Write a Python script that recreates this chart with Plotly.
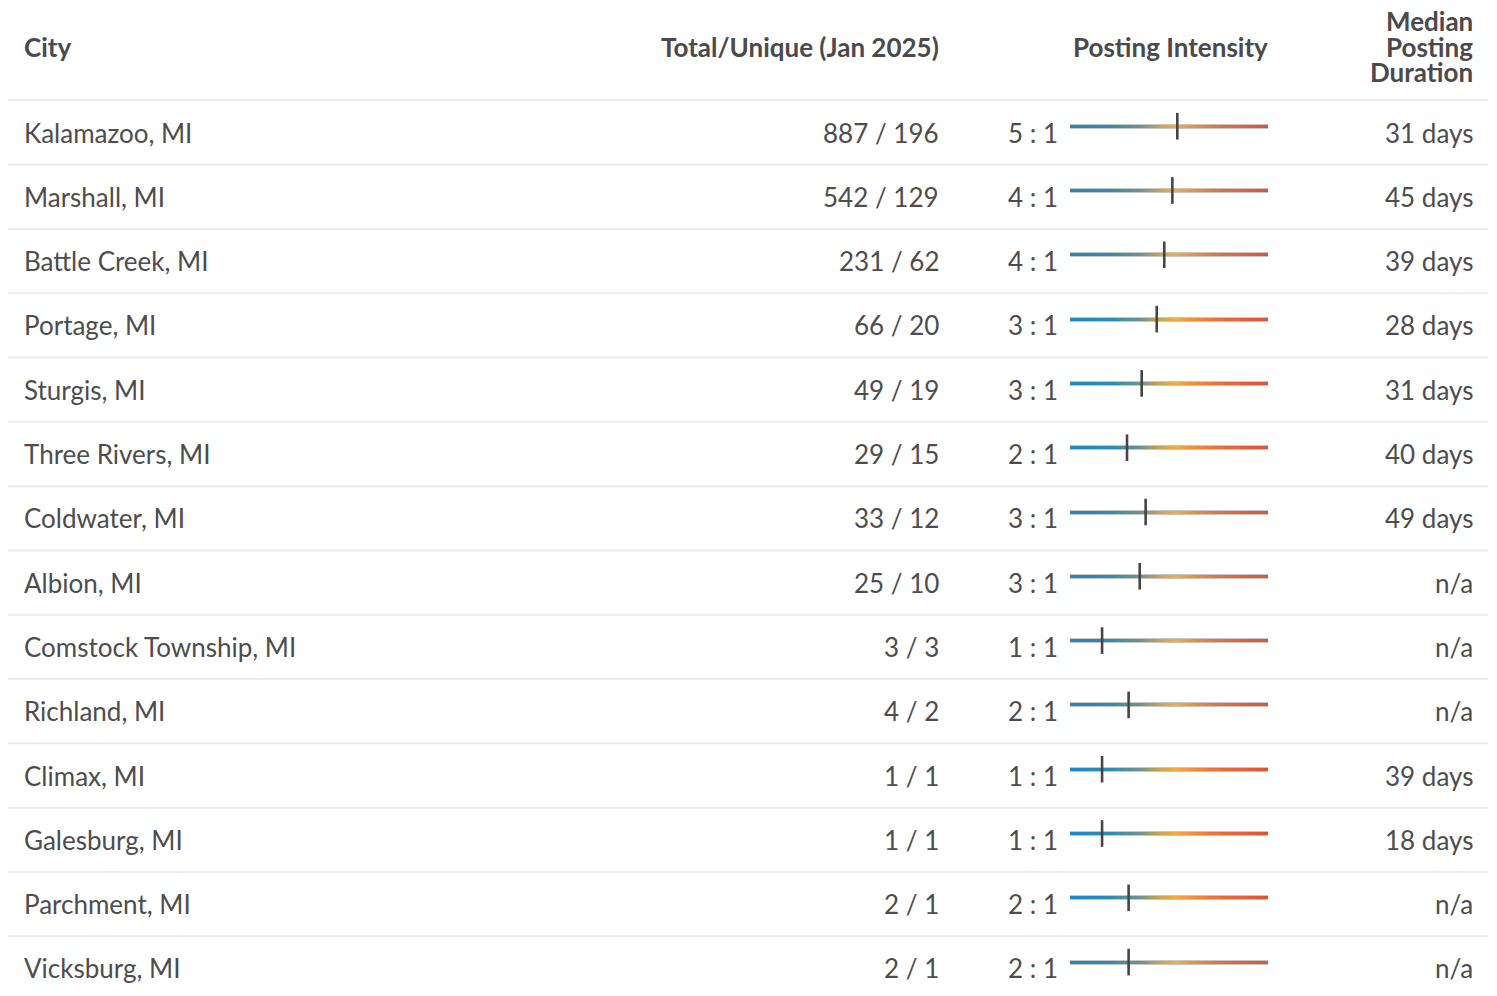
import numpy as np
import plotly.graph_objects as go
from plotly.colors import sample_colorscale

cities = ["Kalamazoo, MI", "Marshall, MI", "Battle Creek, MI", "Portage, MI", "Sturgis, MI",
          "Three Rivers, MI", "Coldwater, MI", "Albion, MI", "Comstock Township, MI",
          "Richland, MI", "Climax, MI", "Galesburg, MI", "Parchment, MI", "Vicksburg, MI"]
total_postings = [887, 542, 231, 66, 49, 29, 33, 25, 3, 4, 1, 1, 2, 2]
unique_postings = [196, 129, 62, 20, 19, 15, 12, 10, 3, 2, 1, 1, 1, 1]
intensity_labels = ["5 : 1", "4 : 1", "4 : 1", "3 : 1", "3 : 1", "2 : 1", "3 : 1", "3 : 1",
                    "1 : 1", "2 : 1", "1 : 1", "1 : 1", "2 : 1", "2 : 1"]
# marker position along the intensity bar (0 = left end, 1 = right end)
intensity_marker = [0.542, 0.517, 0.476, 0.438, 0.362, 0.288, 0.382, 0.352,
                    0.162, 0.296, 0.162, 0.162, 0.296, 0.296]
median_duration = ["31 days", "45 days", "39 days", "28 days", "31 days", "40 days", "49 days",
                    "n/a", "n/a", "n/a", "39 days", "18 days", "n/a", "n/a"]
headers = ["City", "Total/Unique (Jan 2025)", "Posting Intensity", "Median", "Posting", "Duration"]

W, H = 1497, 996
ROW0, ROWH = 132.5, 64.3
BAR_LIFT = 6.3  # bar sits a little above the text centre line (pixels)


def yi(p):
    return (p - ROW0) / ROWH


n = len(cities)
rows = list(range(n))
bar_center = [r - BAR_LIFT / ROWH for r in rows]

BODY = "#4d4d4d"
HEAD = "#4a4a4a"
FONT = "Lato, 'Open Sans', sans-serif"
FS = 26
LPAD, RPAD = -2, 3

GRADIENT = [[0.0, "#1a88ca"], [0.2, "#2a8bb8"], [0.36, "#6f9585"], [0.45, "#c9a54e"],
            [0.53, "#f6ab3a"], [0.72, "#ec7438"], [1.0, "#e0503a"]]

fig = go.Figure()

# gray under-line of every bar
gx, gy = [], []
for yc in bar_center:
    gx += [0, 1, None]
    gy += [yc, yc, None]
fig.add_trace(go.Scatter(x=gx, y=gy, xaxis="x2", yaxis="y", mode="lines",
                         line=dict(color="#c6c6c6", width=5), hoverinfo="skip",
                         showlegend=False))

# gradient: short coloured segments
nseg = 66
edges = np.linspace(0, 1, nseg + 1)
cols = sample_colorscale(GRADIENT, list((edges[:-1] + edges[1:]) / 2))
for k in range(nseg):
    sx, sy = [], []
    x0 = edges[k]
    x1 = min(1.0, edges[k + 1] + 0.004)
    for yc in bar_center:
        sx += [x0, x1, None]
        sy += [yc, yc, None]
    fig.add_trace(go.Scatter(x=sx, y=sy, xaxis="x2", yaxis="y", mode="lines",
                             line=dict(color=cols[k], width=3), hoverinfo="skip",
                             showlegend=False))

# tick markers
fig.add_trace(go.Scatter(
    x=intensity_marker, y=bar_center, xaxis="x2", yaxis="y", mode="markers",
    marker=dict(symbol="line-ns", size=19, line=dict(width=2.6, color="#454545")),
    hoverinfo="skip", showlegend=False,
))

shapes = []
shapes.append(dict(type="line", xref="x", yref="y", x0=8, x1=1488, y0=yi(100), y1=yi(100),
                   line=dict(color="#ebebeb", width=2), layer="below"))
for r in rows[:-1]:
    shapes.append(dict(type="line", xref="x", yref="y", x0=8, x1=1488, y0=r + 0.5, y1=r + 0.5,
                       line=dict(color="#ebebeb", width=2), layer="below"))

ann = []


def add(text, x, y, anchor, bold=False):
    x = x + (LPAD if anchor == "left" else RPAD)
    ann.append(dict(text=text, x=x, y=y, xref="x", yref="y", xanchor=anchor, yanchor="middle",
                    showarrow=False,
                    font=dict(family=FONT, size=FS, color=HEAD if bold else BODY)))


add("<b>" + headers[0] + "</b>", 24, yi(47), "left", True)
add("<b>" + headers[1] + "</b>", 938, yi(47), "right", True)
add("<b>" + headers[2] + "</b>", 1267, yi(47), "right", True)
add("<b>" + headers[3] + "</b>", 1472, yi(21), "right", True)
add("<b>" + headers[4] + "</b>", 1472, yi(46.5), "right", True)
add("<b>" + headers[5] + "</b>", 1472, yi(72), "right", True)

for r, c, t, u, lab, d in zip(rows, cities, total_postings, unique_postings, intensity_labels,
                              median_duration):
    add(c, 24, r, "left")
    add(f"{t} / {u}", 938, r, "right")
    add(lab, 1057, r, "right")
    add(d, 1472, r, "right")

fig.update_layout(
    width=W, height=H, margin=dict(l=0, r=0, t=0, b=0),
    paper_bgcolor="white", plot_bgcolor="rgba(0,0,0,0)", showlegend=False,
    xaxis=dict(range=[0, W], domain=[0, 1], visible=False, fixedrange=True),
    xaxis2=dict(range=[0, 1], domain=[1070 / W, 1268 / W], anchor="y", visible=False,
                fixedrange=True),
    yaxis=dict(range=[yi(H), yi(0)], domain=[0, 1], visible=False, fixedrange=True),
    shapes=shapes, annotations=ann,
)

post = (
    "document.body.style.margin='0px';document.body.style.overflow='hidden';"
    "var s=document.createElement('style');"
    "s.innerHTML='.scatterlayer path.js-line{shape-rendering:crispEdges;}';"
    "document.head.appendChild(s);"
)
fig.write_html("out.html", config={"displayModeBar": False}, post_script=post)
